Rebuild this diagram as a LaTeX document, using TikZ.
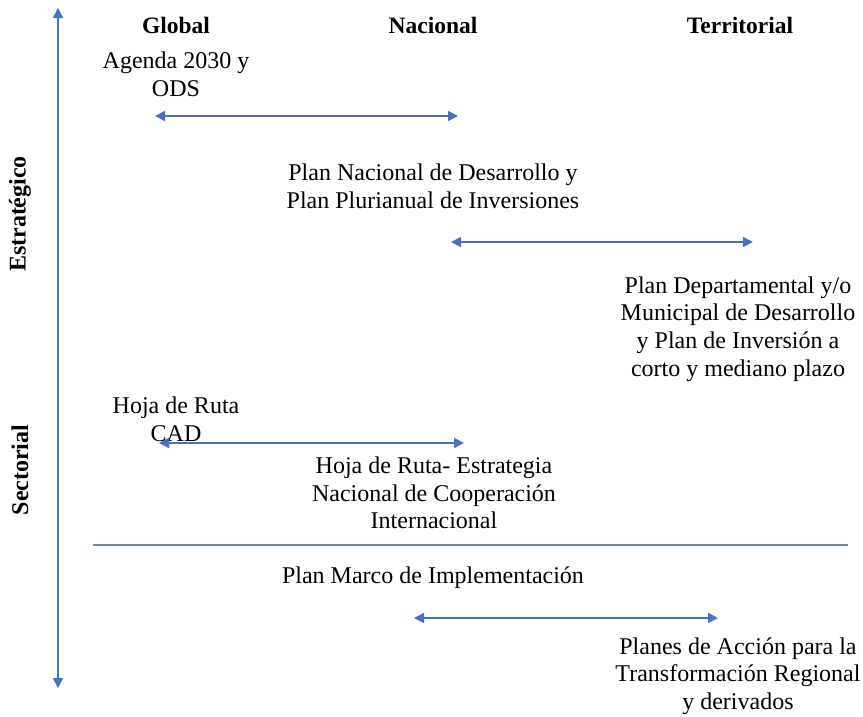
\documentclass[tikz,border=0pt]{standalone}
\usepackage{fontspec}
\setmainfont{Liberation Serif}
\usetikzlibrary{arrows.meta}
\definecolor{axblue}{HTML}{4472C4}
\definecolor{sepblue}{HTML}{6A8BB5}
\begin{document}
\begin{tikzpicture}[x=1pt,y=-1pt,
  txt/.style={align=center,inner sep=0pt,font=\fontsize{24}{27.6}\selectfont},
  head/.style={inner sep=0pt,font=\fontsize{23.5}{27.6}\selectfont\bfseries},
  vlab/.style={inner sep=0pt,rotate=90,font=\fontsize{24}{27.6}\selectfont\bfseries},
  conn/.style={draw=axblue,line width=1.6pt,{Triangle[length=10pt,width=10pt]}-{Triangle[length=10pt,width=10pt]}},
  axis/.style={draw=axblue,line width=1.4pt,{Triangle[length=10pt,width=10pt]}-{Triangle[length=10pt,width=10pt]}}]
\useasboundingbox (0,0) rectangle (863,716);
% axis
\coordinate (axtop) at (58,8);
\coordinate (axbot) at (58,688);
\draw[axis] (axtop) -- (axbot);
\node[vlab] (estr) at (20,214) {Estratégico};
\node[vlab] (sect) at (20,470) {Sectorial};
% headers
\node[head] (glob) at (176,25) {Global};
\node[head] (nac) at (433,25) {Nacional};
\node[head] (terr) at (740,25) {Territorial};
% texts
\node[txt] (agenda) at (176,74) {Agenda 2030 y\\ODS};
\node[txt] (pnd) at (433,186) {Plan Nacional de Desarrollo y\\Plan Plurianual de Inversiones};
\node[txt] (pdep) at (738,329) {Plan Departamental y/o\\Municipal de Desarrollo\\y Plan de Inversión a\\corto y mediano plazo};
\node[txt] (hoja) at (176,419) {Hoja de Ruta\\CAD};
\node[txt] (hojan) at (434,493) {Hoja de Ruta- Estrategia\\Nacional de Cooperación\\Internacional};
\node[txt] (pmi) at (433,578) {Plan Marco de Implementación};
\node[txt] (pat) at (738,676) {Planes de Acción para la\\Transformación Regional\\y derivados};
% arrows
\coordinate (a1l) at (155,116); \coordinate (a1r) at (458,116);
\draw[conn] (a1l) -- (a1r);
\coordinate (a2l) at (451,242); \coordinate (a2r) at (753,242);
\draw[conn] (a2l) -- (a2r);
\coordinate (a3l) at (159,443); \coordinate (a3r) at (464,443);
\draw[conn] (a3l) -- (a3r);
\coordinate (a4l) at (414,618); \coordinate (a4r) at (718,618);
\draw[conn] (a4l) -- (a4r);
% separator
\coordinate (sepl) at (93,545); \coordinate (sepr) at (848,545);
\draw[draw=sepblue,line width=1.4pt] (sepl) -- (sepr);
\end{tikzpicture}
\end{document}
